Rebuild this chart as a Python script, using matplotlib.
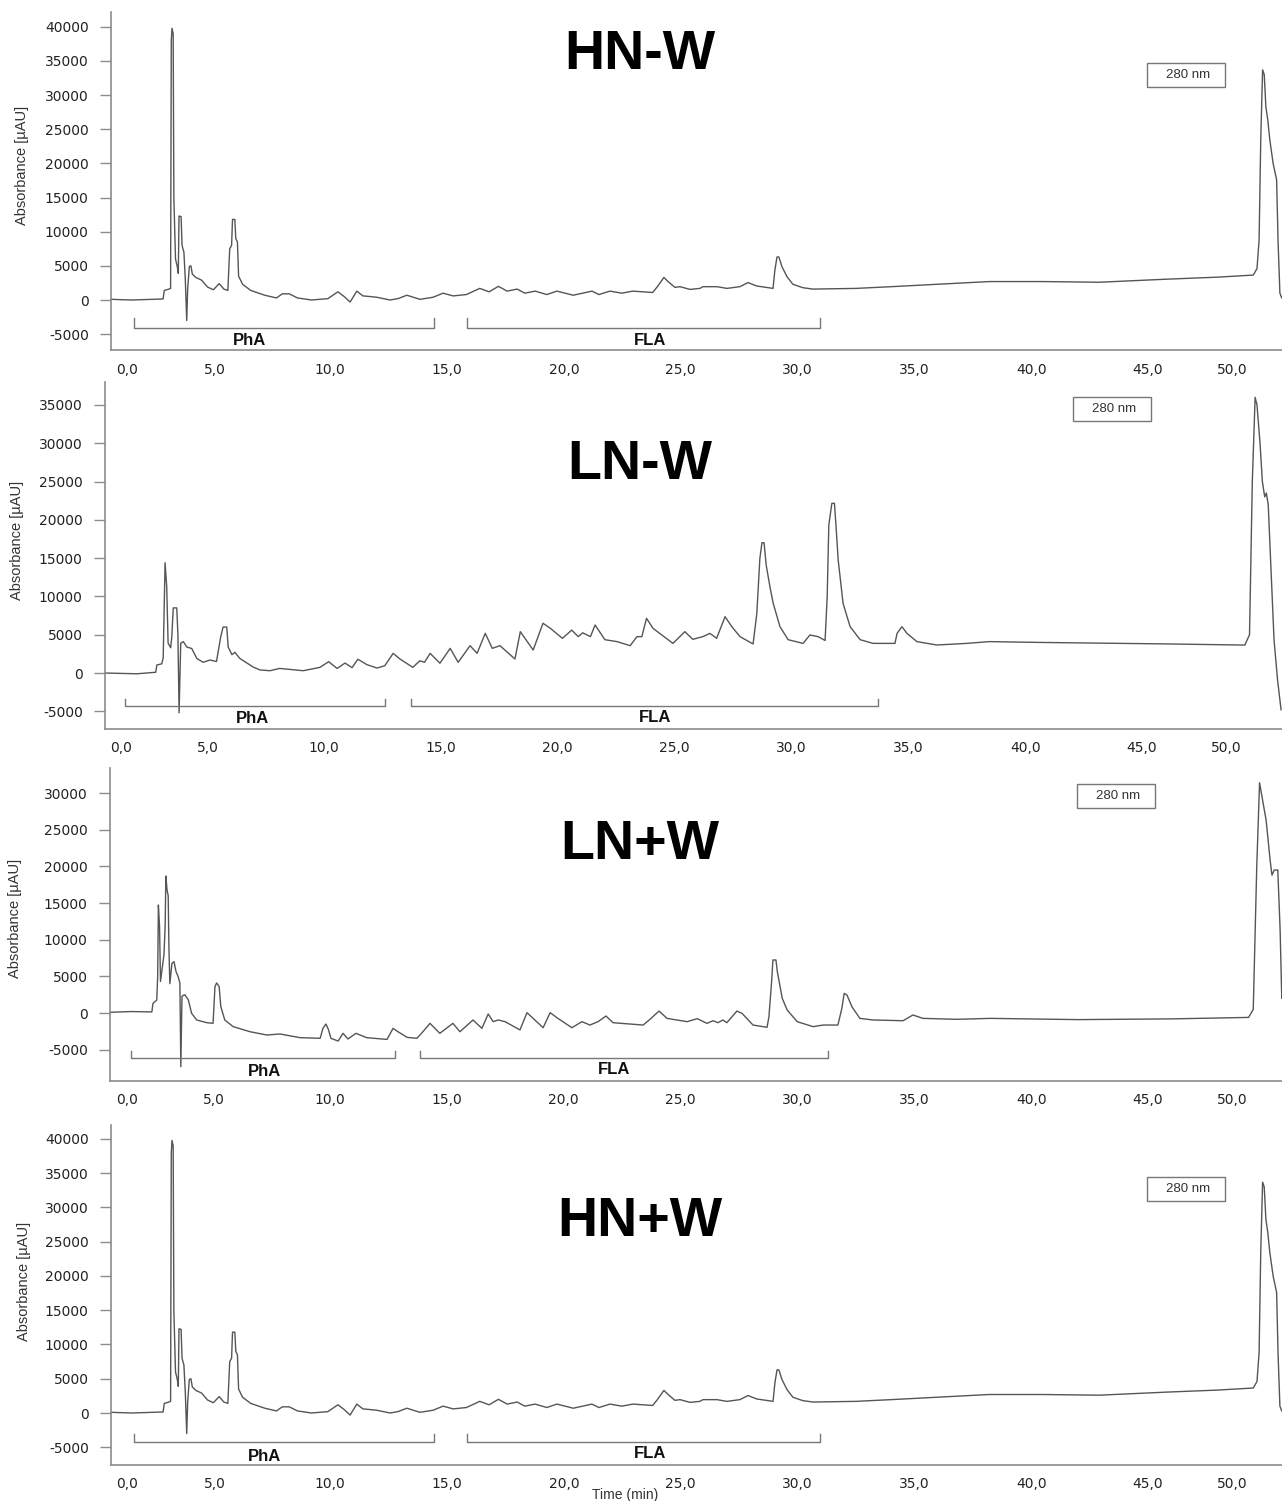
import matplotlib
matplotlib.use('Agg')
import matplotlib.pyplot as plt
from matplotlib.patches import Rectangle

plt.rcParams['font.family'] = ['Liberation Sans', 'DejaVu Sans']

# ---- data (time in min, absorbance in uAU) ----
hnw_time = [0.62, 1.5, 2.4, 2.85, 2.9, 3.1, 3.17, 3.2, 3.23, 3.28, 3.31, 3.38, 3.45, 3.5,
            3.53, 3.62, 3.66, 3.74, 3.8, 3.86, 3.9, 3.97, 4.04, 4.1, 4.25, 4.5, 4.75, 5.0,
            5.25, 5.45, 5.62, 5.7, 5.78, 5.82, 5.92, 5.96, 6.03, 6.08, 6.25, 6.6, 7.2, 7.7,
            7.95, 8.25, 8.6, 9.2, 9.9, 10.33, 10.6, 10.85, 11.14, 11.4, 11.57, 12.0, 12.56,
            12.9, 13.28, 13.84, 14.4, 14.83, 15.26, 15.83, 16.4, 16.8, 17.2, 17.57, 18.0,
            18.33, 18.77, 19.27, 19.7, 20.4, 21.2, 21.5, 21.97, 22.48, 22.95, 23.8, 24.0,
            24.28, 24.46, 24.75, 24.97, 25.4, 25.82, 25.95, 26.55, 26.98, 27.53, 27.88, 28.25,
            28.95, 29.03, 29.12, 29.2, 29.33, 29.55, 29.8, 30.23, 30.66, 32.5, 34.0, 35.4,
            36.8, 38.2, 40.5, 42.9, 45.8, 48.0, 49.5, 49.66, 49.75, 49.82, 49.9, 49.97, 50.04,
            50.12, 50.21, 50.35, 50.5, 50.56, 50.64, 50.72]
hnw_abs = [100, 0, 100, 150, 1400, 1600, 1700, 38000, 39800, 39000, 15000, 6000, 5000, 3900,
           12300, 12200, 8000, 7000, 3000, -3000, 1500, 4900, 5000, 3800, 3300, 2900, 1900, 1500,
           2400, 1600, 1400, 7500, 8000, 11800, 11800, 9000, 8500, 3500, 2300, 1400, 700, 300,
           900, 900, 300, 0, 200, 1200, 500, -300, 1300, 600, 550, 400, 0,
           200, 700, 100, 400, 1000, 600, 800, 1700, 1200, 2000, 1300, 1600,
           1000, 1300, 800, 1300, 700, 1300, 800, 1300, 1000, 1300, 1100, 1950,
           3300, 2700, 1850, 1950, 1550, 1700, 1950, 1950, 1700, 1950, 2550, 2050,
           1700, 4400, 6300, 6300, 4900, 3400, 2300, 1800, 1600, 1700, 1950, 2200,
           2450, 2700, 2700, 2600, 3050, 3350, 3650, 4600, 8800, 23400, 33700, 33000, 28300,
           26400, 23400, 20000, 17600, 8800, 1000, 300]

lnw_time = [0.63, 2.0, 2.8, 2.85, 3.06, 3.12, 3.2, 3.27, 3.33, 3.44, 3.49, 3.55, 3.7, 3.75,
            3.8, 3.87, 3.98, 4.13, 4.34, 4.56, 4.83, 5.12, 5.4, 5.58, 5.68, 5.84, 5.9, 6.06,
            6.19, 6.4, 6.97, 7.26, 7.69, 8.1, 8.6, 9.11, 9.83, 10.2, 10.56, 10.9, 11.2, 11.45,
            11.83, 12.27, 12.6, 12.96, 13.25, 13.8, 14.1, 14.3, 14.54, 14.96, 15.4, 15.74,
            16.25, 16.55, 16.9, 17.2, 17.53, 18.17, 18.4, 18.95, 19.37, 19.7, 20.2, 20.6,
            20.88, 21.07, 21.4, 21.6, 22.02, 22.54, 23.1, 23.39, 23.6, 23.8, 24.08, 24.93,
            25.44, 25.78, 26.21, 26.51, 26.8, 27.02, 27.16, 27.45, 27.8, 28.36, 28.52, 28.65,
            28.74, 28.83, 28.92, 29.08, 29.22, 29.51, 29.86, 30.5, 30.79, 31.14, 31.44, 31.53,
            31.6, 31.73, 31.84, 31.91, 32.0, 32.21, 32.51, 32.94, 33.49, 34.43, 34.52, 34.73,
            34.94, 35.37, 36.22, 37.5, 38.47, 40.5, 43.2, 46.0, 49.4, 49.6, 49.72, 49.84,
            49.92, 50.05, 50.15, 50.25, 50.32, 50.4, 50.5, 50.65, 50.8, 50.95]
lnw_abs = [0, -100, 100, 1050, 1200, 2000, 14400, 11300, 3900, 3300, 4800, 8500, 8500, 5000,
           -5200, 3900, 4100, 3400, 3200, 1900, 1400, 1700, 1500, 4700, 6000, 6000, 3400, 2400,
           2700, 1900, 780, 400, 300, 600, 450, 300, 740, 1480, 600, 1300, 700, 1800,
           1100, 650, 950, 2570, 1830, 740, 1600, 1400, 2570, 1280, 3220, 1400,
           3570, 2570, 5180, 3220, 3570, 1830, 5400, 3000, 6500, 5800, 4530, 5600,
           4750, 5250, 4750, 6270, 4350, 4100, 3570, 4750, 4750, 7140, 5830, 3870,
           5400, 4400, 4750, 5180, 4530, 6270, 7360, 6050, 4750, 3790, 7800, 14980,
           17020, 17000, 14100, 11270, 9100, 6050, 4350, 3870, 4970, 4750, 4250, 9970,
           19330, 22160, 22160, 19100, 14760, 9100, 6050, 4350, 3870, 3870, 5180, 6050,
           5180, 4100, 3660, 3870, 4100, 4000, 3900, 3800, 3650, 5000, 25000, 36000,
           35000, 30000, 25000, 23000, 23500, 22000, 15000, 4300, -900, -4800]

lnpw_time = [0.59, 1.5, 2.38, 2.43, 2.59, 2.63, 2.66, 2.71, 2.75, 2.82, 2.9, 2.95, 2.98, 3.03,
             3.08, 3.11, 3.15, 3.24, 3.33, 3.41, 3.5, 3.58, 3.62, 3.67, 3.79, 3.94, 4.08, 4.3,
             4.73, 5.0, 5.08, 5.15, 5.26, 5.33, 5.5, 5.86, 6.58, 7.3, 7.86, 8.72, 9.58, 9.7,
             9.83, 9.94, 10.04, 10.35, 10.56, 10.77, 11.11, 11.57, 12.44, 12.7, 12.91, 13.3,
             13.72, 13.94, 14.28, 14.7, 15.26, 15.56, 16.12, 16.5, 16.77, 16.98, 17.2, 17.49,
             18.13, 18.43, 18.69, 19.12, 19.42, 19.71, 20.35, 20.78, 21.12, 21.47, 21.81, 22.11,
             23.4, 23.69, 24.08, 24.42, 24.85, 25.28, 25.71, 26.13, 26.39, 26.6, 26.81, 26.98,
             27.41, 27.63, 28.1, 28.7, 28.78, 28.9, 28.95, 29.08, 29.14, 29.35, 29.56, 29.99,
             30.67, 31.1, 31.73, 31.9, 32.0, 32.12, 32.33, 32.67, 33.23, 34.52, 34.94, 35.37,
             36.82, 38.24, 42.0, 46.0, 49.3, 49.5, 49.65, 49.77, 49.9, 50.05, 50.22, 50.3,
             50.4, 50.55, 50.65, 50.72]
lnpw_abs = [100, 200, 150, 1320, 1770, 5000, 14730, 11770, 4300, 6000, 8000, 12000, 18680, 16770,
            16000, 9040, 4000, 6770, 7000, 5700, 5000, 4100, -7320, 2300, 2500, 1800, -30, -950,
            -1320, -1400, 3600, 4100, 3600, 900, -950, -1860, -2550, -3000, -2860, -3360, -3450, -2090,
            -1500, -2300, -3450, -3820, -2770, -3540, -2770, -3360, -3600, -2090, -2550, -3320,
            -3450, -2680, -1410, -2770, -1410, -2550, -950, -2090, -130, -1180, -950, -1180,
            -2300, 45, -720, -2000, 45, -640, -2000, -1180, -1640, -1180, -410, -1320,
            -1640, -860, 270, -730, -950, -1180, -770, -1410, -1050, -1320, -950, -1320,
            270, -50, -1640, -1950, -500, 4500, 7230, 7230, 5630, 2000, 410, -1180,
            -1860, -1640, -1640, 640, 2680, 2450, 860, -730, -950, -1050, -270, -730,
            -860, -730, -900, -800, -600, 500, 20000, 31400, 29000, 26300, 20900, 18800,
            19500, 19500, 11300, 2000]

# HN+W trace is the same run as HN-W in the figure
hnpw_time = hnw_time
hnpw_abs = hnw_abs

titles = ['HN-W', 'LN-W', 'LN+W', 'HN+W']
series = [(hnw_time, hnw_abs), (lnw_time, lnw_abs), (lnpw_time, lnpw_abs), (hnpw_time, hnpw_abs)]
ytick_max = [40000, 35000, 30000, 40000]
xtick_labels = ['0,0', '5,0', '10,0', '15,0', '20,0', '25,0', '30,0', '35,0', '40,0', '45,0', '50,0']
xtick_pos = [1.3, 5.05, 10, 15, 20, 25, 30, 35, 40, 45, 48.6]

# ---- layout (pixels) ----
W, H = 1282, 1501
boxes = [(111, 12, 1282, 350), (105, 382, 1282, 729), (110, 768, 1282, 1081), (111, 1125, 1282, 1465)]
xlims = [(0.62, 50.73), (0.63, 50.99), (0.59, 50.73), (0.62, 50.73)]
ylims = [(-7320, 42170), (-7310, 38000), (-9270, 33410), (-7590, 42040)]
title_y = [55, 465, 845, 1222]
ylabel_xy = [(22, 165), (17, 540), (15, 918), (24, 1281)]
nm_box = [(1147, 63), (1073, 397), (1077, 784), (1147, 1177)]
# bracket: (x0, x1, y_low, y_high) for PhA and FLA, plus label positions
brackets = [
    [(1.6, 14.44, -4100, -2640), (15.85, 30.96, -4100, -2640)],
    [(1.48, 12.61, -4310, -3400), (13.72, 33.71, -4310, -3400)],
    [(1.48, 12.78, -6140, -5180), (13.85, 31.31, -6140, -5180)],
    [(1.6, 14.44, -4230, -3070), (15.85, 30.96, -4230, -3070)],
]
bracket_lbl = [
    [(6.53, -6000), (23.68, -5860)],
    [(6.96, -5880), (24.16, -5750)],
    [(7.22, -7910), (22.15, -7770)],
    [(7.17, -6420), (23.68, -5840)],
]

fig = plt.figure(figsize=(W / 100, H / 100), dpi=100)

for i in range(4):
    l, t, r, b = boxes[i]
    ax = fig.add_axes([l / W, 1 - b / H, (r - l) / W, (b - t) / H])
    ax.patch.set_alpha(0)
    tt, aa = series[i]
    ax.plot(tt, aa, color='#555555', lw=1.0, clip_on=False)
    ax.set_xlim(*xlims[i])
    ax.set_ylim(*ylims[i])

    for s in ['top', 'right']:
        ax.spines[s].set_visible(False)
    for s in ['left', 'bottom']:
        ax.spines[s].set_color('#8c8c8c')
        ax.spines[s].set_linewidth(1.2)

    ax.set_yticks(list(range(-5000, ytick_max[i] + 1, 5000)))
    ax.set_yticklabels([str(v) for v in range(-5000, ytick_max[i] + 1, 5000)],
                       family='DejaVu Sans')
    ax.set_xticks(xtick_pos)
    ax.set_xticklabels(xtick_labels, family='DejaVu Sans')
    ax.tick_params(axis='y', length=8, width=1, color='#8c8c8c', labelsize=10,
                   labelcolor='#222222', pad=8)
    ax.tick_params(axis='x', length=0, labelsize=10, labelcolor='#222222', pad=9)

    for (x0, x1, ylo, yhi) in brackets[i]:
        ax.plot([x0, x0, x1, x1], [yhi, ylo, ylo, yhi], color='#777777', lw=1.0)
    for name, (lx, ly) in zip(['PhA', 'FLA'], bracket_lbl[i]):
        ax.text(lx, ly, name, ha='center', va='center', fontsize=12,
                fontweight='bold', color='#111111')

    fig.text(640 / W, 1 - title_y[i] / H, titles[i], ha='center', va='center',
             fontsize=40, fontweight='bold', color='#000000')

    yx, yy = ylabel_xy[i]
    fig.text(yx / W, 1 - yy / H, 'Absorbance [µAU]', rotation=90, ha='center',
             va='center', fontsize=10.5, color='#333333')

    bx, by = nm_box[i]
    fig.patches.append(Rectangle((bx / W, 1 - (by + 24) / H), 78 / W, 24 / H,
                                 transform=fig.transFigure, fill=False,
                                 edgecolor='#777777', lw=1.0))
    fig.text((bx + 41) / W, 1 - (by + 12) / H, '280 nm', ha='center', va='center',
             fontsize=9.5, color='#333333')

fig.text(625 / W, 1 - 1495 / H, 'Time (min)', ha='center', va='center',
         fontsize=10, color='#333333')

fig.savefig('out.png', dpi=100)
